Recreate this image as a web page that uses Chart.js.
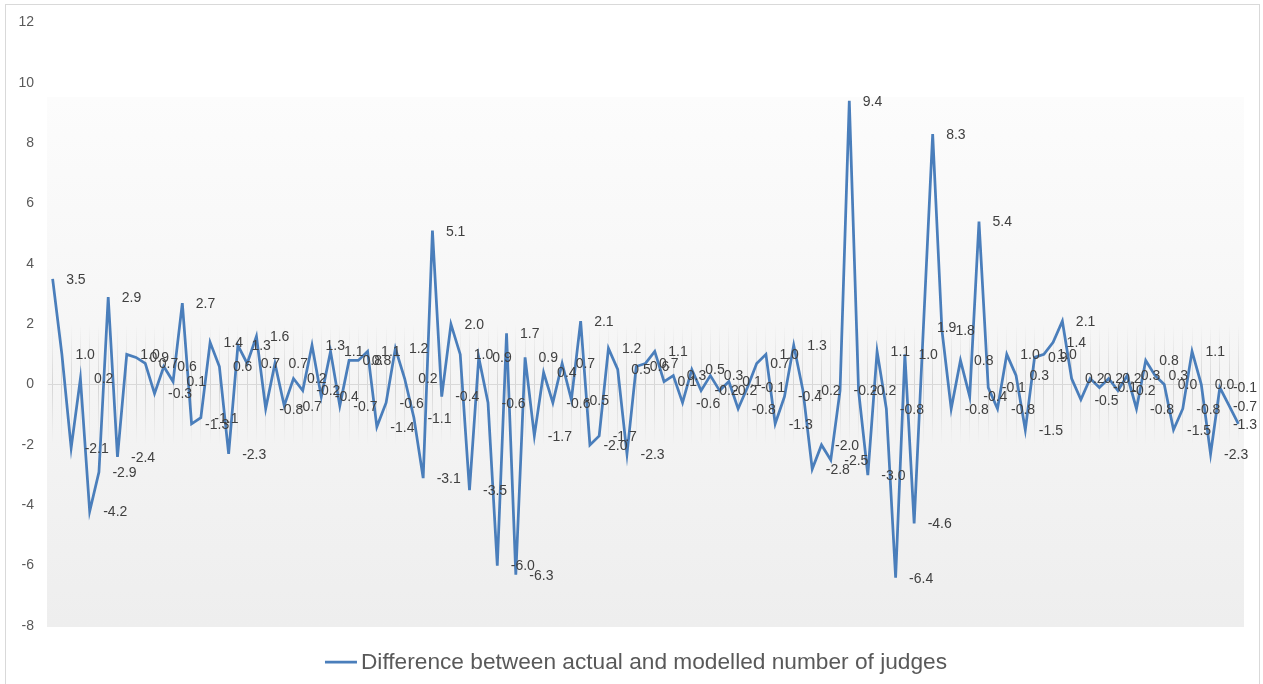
<!DOCTYPE html>
<html>
<head>
<meta charset="utf-8">
<script src="https://cdn.jsdelivr.net/npm/chart.js@4.4.1/dist/chart.umd.min.js"></script>
<style>
    html, body { margin: 0; padding: 0; background: #ffffff; }
    #wrap { position: relative; width: 1263px; height: 684px; }
</style>
</head>
<body>
<div id="wrap"><canvas id="graficoJuizes"></canvas></div>
<script>
// Diferença entre o número real e o modelado de juízes (uma entrada por categoria)
const valores = [
    3.5, 1.0, -2.1, 0.2, -4.2, -2.9, 2.9, -2.4, 1.0, 0.9,
    0.7, -0.3, 0.6, 0.1, 2.7, -1.3, -1.1, 1.4, 0.6, -2.3,
    1.3, 0.7, 1.6, -0.8, 0.7, -0.7, 0.2, -0.2, 1.3, -0.4,
    1.1, -0.7, 0.8, 0.8, 1.1, -1.4, -0.6, 1.2, 0.2, -1.1,
    -3.1, 5.1, -0.4, 2.0, 1.0, -3.5, 0.9, -0.6, -6.0, 1.7,
    -6.3, 0.9, -1.7, 0.4, -0.6, 0.7, -0.5, 2.1, -2.0, -1.7,
    1.2, 0.5, -2.3, 0.6, 0.7, 1.1, 0.1, 0.3, -0.6, 0.5,
    -0.2, 0.3, -0.2, 0.1, -0.8, -0.1, 0.7, 1.0, -1.3, -0.4,
    1.3, -0.2, -2.8, -2.0, -2.5, -0.2, 9.4, -0.2, -3.0, 1.1,
    -0.8, -6.4, 1.0, -4.6, 1.9, 8.3, 1.8, -0.8, 0.8, -0.4,
    5.4, -0.1, -0.8, 1.0, 0.3, -1.5, 0.9, 1.0, 1.4, 2.1,
    0.2, -0.5, 0.2, -0.1, 0.2, -0.2, 0.3, -0.8, 0.8, 0.3,
    0.0, -1.5, -0.8, 1.1, 0.0, -2.3, -0.1, -0.7, -1.3
];
// Categorias sem rótulo no eixo horizontal
const categorias = valores.map((v, i) => String(i + 1));
const nomeSerie = 'Difference between actual and modelled number of judges';
const eixoMin = -8;
const eixoMax = 12;
const eixoPasso = 2;

const corLinha = '#4a7ebb';
const fonte = '"Liberation Sans", Arial, sans-serif';

// Fundo com degradê da área do gráfico e moldura externa
const fundoPlugin = {
    id: 'fundo',
    beforeDraw(chart) {
        const { ctx, chartArea } = chart;
        ctx.save();
        ctx.fillStyle = '#ffffff';
        ctx.fillRect(0, 0, chart.width, chart.height);
        const topo = 97;
        const grad = ctx.createLinearGradient(0, topo, 0, chartArea.bottom);
        grad.addColorStop(0, '#fcfcfc');
        grad.addColorStop(1, '#eeeeee');
        ctx.fillStyle = grad;
        ctx.fillRect(chartArea.left - 1, topo, chartArea.right - chartArea.left + 2, chartArea.bottom - topo + 1);
        ctx.strokeStyle = '#d9d9d9';
        ctx.lineWidth = 1;
        ctx.strokeRect(5.5, 4.5, chart.width - 9, chart.height + 5);
        ctx.restore();
    }
};

// Linhas verticais das categorias, esmaecendo longe do zero
function corGradeX(c) {
    const chart = c.chart;
    if (!chart.chartArea || !chart.scales.y) return 'rgba(0,0,0,0)';
    const y0 = chart.scales.y.getPixelForValue(0);
    const g = chart.ctx.createLinearGradient(0, y0 - 60, 0, y0 + 60);
    g.addColorStop(0, 'rgba(210,210,210,0)');
    g.addColorStop(0.5, 'rgba(210,210,210,0.9)');
    g.addColorStop(1, 'rgba(210,210,210,0)');
    return g;
}

// Rótulos de dados à direita de cada ponto
const rotulosPlugin = {
    id: 'rotulos',
    afterDatasetsDraw(chart) {
        const { ctx } = chart;
        const meta = chart.getDatasetMeta(0);
        ctx.save();
        ctx.font = '14px ' + fonte;
        ctx.fillStyle = '#404040';
        ctx.textAlign = 'left';
        ctx.textBaseline = 'middle';
        meta.data.forEach((ponto, i) => {
            const texto = valores[i].toFixed(1);
            const largura = ctx.measureText(texto).width;
            let x = ponto.x + 13.5;
            if (x + largura > chart.width - 6) x = chart.width - 6 - largura;
            ctx.fillText(texto, x, ponto.y + 1);
        });
        ctx.restore();
    }
};

// Legenda desenhada à mão (linha curta + nome da série)
const legendaPlugin = {
    id: 'legendaManual',
    afterDraw(chart) {
        const { ctx } = chart;
        ctx.save();
        ctx.font = '22.7px ' + fonte;
        const larguraTexto = ctx.measureText(nomeSerie).width;
        const total = 32 + 4 + larguraTexto;
        const x0 = chart.width / 2 + 4.5 - total / 2;
        const y = 662;
        ctx.strokeStyle = corLinha;
        ctx.lineWidth = 2.75;
        ctx.beginPath();
        ctx.moveTo(x0, y);
        ctx.lineTo(x0 + 32, y);
        ctx.stroke();
        ctx.fillStyle = '#595959';
        ctx.textAlign = 'left';
        ctx.textBaseline = 'middle';
        ctx.fillText(nomeSerie, x0 + 36, y + 1);
        ctx.restore();
    }
};

const ctx = document.getElementById('graficoJuizes').getContext('2d');
window.graficoJuizes = new Chart(ctx, {
    type: 'line',
    data: {
        labels: categorias,
        datasets: [{
            label: nomeSerie,
            data: valores,
            borderColor: corLinha,
            backgroundColor: corLinha,
            borderWidth: 2.75,
            pointRadius: 0,
            pointHoverRadius: 0,
            tension: 0,
            fill: false
        }]
    },
    options: {
        responsive: true,
        maintainAspectRatio: false,
        animation: false,
        events: [],
        layout: {
            padding: { top: 22, right: 20, left: 0, bottom: 58 }
        },
        scales: {
            x: {
                display: true,
                offset: true,
                afterFit: (eixo) => { eixo.height = 0; },
                border: { display: false },
                ticks: { display: false },
                grid: {
                    offset: false,
                    drawTicks: false,
                    tickLength: 0,
                    color: corGradeX,
                    lineWidth: 1
                }
            },
            y: {
                min: eixoMin,
                max: eixoMax,
                afterFit: (eixo) => { eixo.width = 48; },
                border: { display: false },
                grid: {
                    drawTicks: false,
                    tickLength: 0,
                    color: (c) => c.tick && c.tick.value === 0 ? '#d9d9d9' : 'rgba(0,0,0,0)',
                    lineWidth: 1
                },
                ticks: {
                    stepSize: eixoPasso,
                    padding: 14,
                    color: '#595959',
                    font: { family: fonte, size: 14 }
                }
            }
        },
        plugins: {
            legend: { display: false },
            tooltip: { enabled: false },
            title: { display: false }
        }
    },
    plugins: [fundoPlugin, rotulosPlugin, legendaPlugin]
});
</script>
</body>
</html>
